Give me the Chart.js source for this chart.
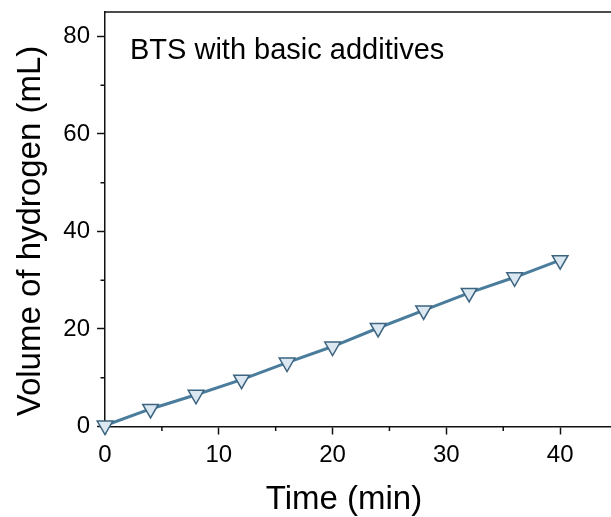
<!DOCTYPE html>
<html>
<head>
<meta charset="utf-8">
<script src="https://cdn.jsdelivr.net/npm/chart.js@4.4.0/dist/chart.umd.min.js"></script>
<style>
  html, body { margin: 0; padding: 0; background: #fff; overflow: hidden; }
  #wrap { width: 611px; height: 517px; overflow: hidden; position: relative; }
  canvas { display: block; }
</style>
</head>
<body>
<div id="wrap"><canvas id="c" width="640" height="517"></canvas></div>
<script>
const timeMin = [0, 4, 8, 12, 16, 20, 24, 28, 32, 36, 40];
const volumeH2 = [0.2, 3.6, 6.5, 9.6, 13.1, 16.4, 20.2, 23.8, 27.4, 30.6, 34.1];
const xTickValues = [0, 10, 20, 30, 40];
const yTickValues = [0, 20, 40, 60, 80];
const xMinorTicks = [5, 15, 25, 35, 45];
const yMinorTicks = [10, 30, 50, 70];
const xTitle = 'Time (min)';
const yTitle = 'Volume of hydrogen (mL)';
const annotationText = 'BTS with basic additives';

const FONT = '"Liberation Sans", Arial, sans-serif';
const X_PX_PER_MIN = 11.4;
let xAdjusted = false;

const decor = {
  id: 'decor',
  afterRender(chart) {
    if (xAdjusted) return;
    xAdjusted = true;
    const a = chart.chartArea;
    chart.options.scales.x.max = (a.right + 1 - a.left) / X_PX_PER_MIN;
    chart.update('none');
  },
  afterDraw(chart) {
    const ctx = chart.ctx;
    const a = chart.chartArea;
    const xs = chart.scales.x, ys = chart.scales.y;
    ctx.save();
    // top frame (right side of the frame lies outside the picture)
    ctx.strokeStyle = '#111';
    ctx.lineWidth = 1.5;
    ctx.beginPath();
    ctx.moveTo(a.left, a.top);
    ctx.lineTo(a.right + 30, a.top);
    ctx.stroke();
    // minor ticks
    ctx.beginPath();
    xMinorTicks.forEach(v => {
      const px = xs.getPixelForValue(v);
      if (px > a.right - 2) return;
      ctx.moveTo(px, a.bottom);
      ctx.lineTo(px, a.bottom + 4.5);
    });
    yMinorTicks.forEach(v => {
      const py = ys.getPixelForValue(v);
      ctx.moveTo(a.left, py);
      ctx.lineTo(a.left - 4.5, py);
    });
    ctx.stroke();
    // titles
    ctx.fillStyle = '#000';
    ctx.font = '33px ' + FONT;
    ctx.textAlign = 'center';
    ctx.textBaseline = 'alphabetic';
    ctx.fillText(xTitle, 344, 509);
    ctx.save();
    ctx.translate(40, 231);
    ctx.rotate(-Math.PI / 2);
    ctx.fillText(yTitle, 0, 0);
    ctx.restore();
    ctx.font = '29px ' + FONT;
    ctx.textAlign = 'left';
    ctx.fillText(annotationText, 130, 59);
    ctx.restore();
  }
};

new Chart(document.getElementById('c'), {
  type: 'line',
  data: {
    labels: timeMin,
    datasets: [{
      data: timeMin.map((t, i) => ({ x: t, y: volumeH2[i] })),
      borderColor: '#4a7c9c',
      borderWidth: 3,
      pointStyle: 'triangle',
      rotation: 180,
      pointRadius: 9,
      pointHoverRadius: 9,
      pointBackgroundColor: '#dbe8f1',
      pointBorderColor: '#3d6480',
      pointBorderWidth: 1.5,
      tension: 0,
      clip: false
    }]
  },
  options: {
    responsive: false,
    devicePixelRatio: 1,
    animation: false,
    layout: { padding: { top: 12, right: 0, left: 0, bottom: 0 } },
    plugins: { legend: { display: false }, tooltip: { enabled: false } },
    scales: {
      x: {
        type: 'linear',
        min: 0,
        max: 46,
        afterFit: s => { s.height = 90.5; s.paddingLeft = 0; s.paddingRight = 0; },
        afterBuildTicks: s => { s.ticks = xTickValues.map(v => ({ value: v })); },
        border: { display: true, color: '#111', width: 1.5 },
        grid: { drawOnChartArea: false, drawTicks: true, tickLength: 8, tickColor: '#111', tickWidth: 1.5 },
        ticks: { color: '#000', font: { family: FONT, size: 24 }, padding: 6, maxRotation: 0, includeBounds: false }
      },
      y: {
        type: 'linear',
        min: 0,
        max: 85,
        afterFit: s => { s.width = 105; s.paddingTop = 0; s.paddingBottom = 0; },
        afterBuildTicks: s => { s.ticks = yTickValues.map(v => ({ value: v })); },
        border: { display: true, color: '#111', width: 1.5 },
        grid: { drawOnChartArea: false, drawTicks: true, tickLength: 8, tickColor: '#111', tickWidth: 1.5 },
        ticks: { color: '#000', font: { family: FONT, size: 24 }, padding: 7, includeBounds: false }
      }
    }
  },
  plugins: [decor]
});
</script>
</body>
</html>
